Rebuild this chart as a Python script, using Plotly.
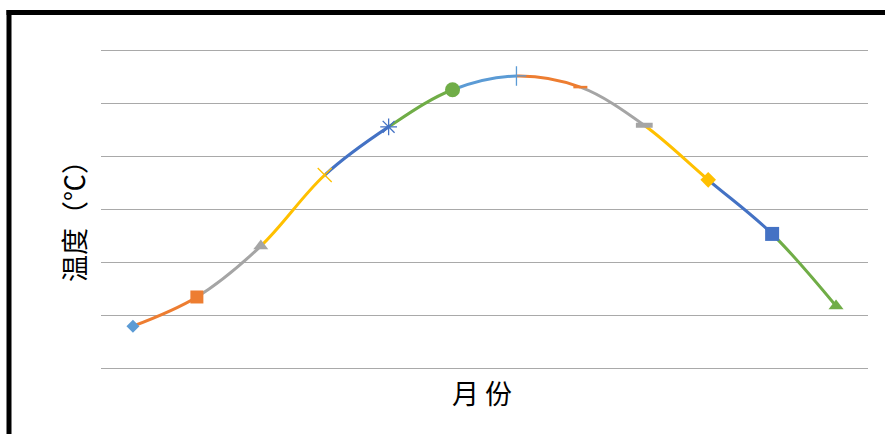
import plotly.graph_objects as go

# Monthly temperature curve (schematic, no tick labels)
months = ["1月", "2月", "3月", "4月", "5月", "6月", "7月", "8月", "9月", "10月", "11月", "12月"]
temps = [7.9, 13.4, 23.0, 36.4, 45.5, 52.5, 55.1, 53.0, 45.8, 35.5, 25.3, 11.7]

# Office accent palette, cycled per point
palette = ["#5B9BD5", "#ED7D31", "#A5A5A5", "#FFC000", "#4472C4", "#70AD47"]
point_colors = [palette[i % 6] for i in range(len(months))]
point_symbols = ["diamond", "square", "triangle-up", "x-thin-open", "asterisk-open", "circle",
                 "cross-thin-open", "line-ew-open", "line-ew-open", "diamond", "square", "triangle-up"]
point_sizes = [10, 13, 13, 14, 14, 15, 14, 10, 12, 12, 14, 13]
point_line_w = [0, 0, 0, 1.3, 1.3, 0, 1.3, 2.5, 5, 0, 0, 0]

W, H = 885, 434
ML, MR, MT, MB = 101, 17, 47, 63
PW = W - ML - MR
PH = H - MT - MB
Y_RANGE = [-0.566, 60.566]
n = len(months)
xs = list(range(n))


def px_x(p):
    return (p - ML) / PW


def px_y(p):
    return (H - MB - p) / PH


fig = go.Figure()
layout_axes = {}

# Base subplot: carries the horizontal grid across the full width
fig.add_trace(go.Scatter(x=[], y=[], xaxis="x", yaxis="y", mode="lines",
                         showlegend=False, hoverinfo="skip"))

# Each coloured piece of the smooth curve lives on its own x-axis whose domain
# spans one month interval, so the spline is clipped to that interval.
for k in range(n - 1):
    ax_id = k + 2
    layout_axes[f"xaxis{ax_id}"] = dict(
        domain=[(k + 0.5) / n, (k + 1.5) / n], range=[k, k + 1],
        anchor="y", visible=False, showgrid=False, zeroline=False, fixedrange=True,
    )
    fig.add_trace(go.Scatter(
        x=xs, y=temps, mode="lines", xaxis=f"x{ax_id}", yaxis="y",
        line=dict(color=point_colors[k + 1], width=3, shape="spline", smoothing=1.0),
        hoverinfo="skip", showlegend=False,
    ))

# Markers on a top-most pair of axes spanning the whole plot
marker_x = f"x{n + 1}"
layout_axes[f"xaxis{n + 1}"] = dict(domain=[0, 1], range=[-0.5, n - 0.5], anchor="y2",
                                     visible=False, showgrid=False, zeroline=False)
fig.add_trace(go.Scatter(
    x=xs, y=temps, mode="markers", xaxis=marker_x, yaxis="y2",
    marker=dict(symbol=point_symbols, color=point_colors, size=point_sizes, opacity=1,
                line=dict(color=point_colors, width=point_line_w)),
    text=months, hovertemplate="%{text}: %{y}<extra></extra>", showlegend=False,
))

fig.update_layout(
    width=W, height=H,
    margin=dict(l=ML, r=MR, t=MT, b=MB),
    paper_bgcolor="white", plot_bgcolor="rgba(0,0,0,0)",
    font=dict(family="Noto Sans CJK SC", color="black"),
    xaxis=dict(domain=[0, 1], range=[-0.5, n - 0.5], showgrid=False, zeroline=False,
               showticklabels=False, ticks="", showline=False),
    yaxis=dict(domain=[0, 1], range=Y_RANGE, tick0=0, dtick=10, showgrid=True,
               gridcolor="#A9A9A9", gridwidth=1.3, zeroline=False, showticklabels=False,
               ticks="", showline=False),
    yaxis2=dict(domain=[0, 1], range=Y_RANGE, anchor=marker_x, visible=False,
                showgrid=False, zeroline=False),
    **layout_axes,
    annotations=[
        dict(text="温度（℃）", xref="paper", yref="paper", x=px_x(73), y=px_y(215),
             xanchor="center", yanchor="middle", textangle=-90, showarrow=False,
             font=dict(size=27, color="black", family="Noto Sans CJK SC")),
        dict(text="月 份", xref="paper", yref="paper", x=px_x(482), y=px_y(392),
             xanchor="center", yanchor="middle", showarrow=False,
             font=dict(size=27, color="black", family="Noto Sans CJK SC")),
    ],
    shapes=[
        dict(type="line", xref="paper", yref="paper", x0=px_x(9), x1=px_x(9),
             y0=px_y(10), y1=px_y(H + 10), line=dict(color="black", width=5)),
        dict(type="line", xref="paper", yref="paper", x0=px_x(6.5), x1=px_x(W + 10),
             y0=px_y(12.5), y1=px_y(12.5), line=dict(color="black", width=5)),
    ],
)

fig.write_html("out.html")
